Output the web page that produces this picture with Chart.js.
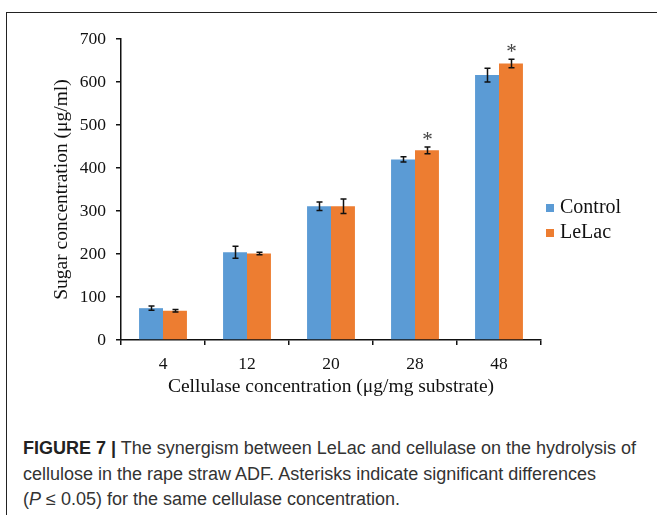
<!DOCTYPE html>
<html>
<head>
<meta charset="utf-8">
<script src="https://cdn.jsdelivr.net/npm/chart.js@4.4.1/dist/chart.umd.min.js"></script>
<style>
    html, body { margin: 0; padding: 0; background: #fff; }
    .figure {
        position: relative;
        width: 657px;
        height: 515px;
        overflow: hidden;
    }
    .frame {
        position: absolute;
        left: 6px;
        top: 12px;
        width: 700px;
        height: 600px;
        border-top: 1.5px solid #222;
        border-left: 1.5px solid #222;
    }
    .chart-box {
        position: absolute;
        left: 0;
        top: 0;
        width: 657px;
        height: 400px;
    }
    .caption {
        position: absolute;
        left: 23px;
        top: 436px;
        width: 634px;
        white-space: nowrap;
        font-family: "Liberation Sans", Arial, sans-serif;
        font-size: 18px;
        line-height: 25.5px;
        color: #333;
    }
    .caption strong { font-weight: bold; color: #222; }
</style>
</head>
<body>
<div class="figure">
    <div class="frame"></div>
    <div class="chart-box"><canvas id="chart"></canvas></div>
    <div class="caption">
        <strong>FIGURE 7 |</strong> The synergism between LeLac and cellulase on the hydrolysis of<br>
        cellulose in the rape straw ADF. Asterisks indicate significant differences<br>
        (<i>P</i> &le; 0.05) for the same cellulase concentration.
    </div>
</div>
<script>
const categories = ['4', '12', '20', '28', '48'];
const seriesNames = ['Control', 'LeLac'];
const controlValues = [74, 204, 311, 420, 616];
const controlErrors = [5, 14, 10, 6, 16];
const lelacValues = [68, 201, 311, 441, 643];
const lelacErrors = [3, 3, 17, 8, 10];
const lelacSignificant = [false, false, false, true, true];
const yTicks = [0, 100, 200, 300, 400, 500, 600, 700];

const colors = ['#5B9BD5', '#ED7D31'];
const serif = '"Liberation Serif", "Times New Roman", serif';

const errors = [controlErrors, lelacErrors];
const marks = [categories.map(() => false), lelacSignificant];

// error bars and significance asterisks on top of each bar
const errorBars = {
    id: 'errorBars',
    afterDatasetsDraw(chart) {
        const { ctx, scales } = chart;
        const y = scales.y;
        ctx.save();
        chart.data.datasets.forEach((dataset, di) => {
            const meta = chart.getDatasetMeta(di);
            meta.data.forEach((bar, i) => {
                const value = dataset.data[i];
                const err = errors[di][i];
                const top = y.getPixelForValue(value + err);
                const bottom = y.getPixelForValue(value - err);
                const x = Math.round(bar.x) + 0.5;
                ctx.strokeStyle = '#111';
                ctx.lineWidth = 1.5;
                ctx.beginPath();
                ctx.moveTo(x, top);
                ctx.lineTo(x, bottom);
                ctx.moveTo(x - 3, top);
                ctx.lineTo(x + 3, top);
                ctx.moveTo(x - 3, bottom);
                ctx.lineTo(x + 3, bottom);
                ctx.stroke();
                if (marks[di][i]) {
                    ctx.fillStyle = '#444';
                    ctx.font = `21px ${serif}`;
                    ctx.textAlign = 'center';
                    ctx.textBaseline = 'alphabetic';
                    ctx.fillText('*', x, top - 1);
                }
            });
        });
        ctx.restore();
    },
};

// legend to the right of the plot
const sideLegend = {
    id: 'sideLegend',
    afterDraw(chart) {
        const { ctx } = chart;
        ctx.save();
        ctx.font = `20px ${serif}`;
        ctx.textBaseline = 'middle';
        ctx.textAlign = 'left';
        seriesNames.forEach((name, i) => {
            const cy = 208 + i * 25;
            ctx.fillStyle = colors[i];
            ctx.fillRect(546, cy - 4, 8, 8);
            ctx.fillStyle = '#111';
            ctx.fillText(name, 560, cy);
        });
        ctx.restore();
    },
};

new Chart(document.getElementById('chart'), {
    type: 'bar',
    data: {
        labels: categories,
        datasets: [
            { label: seriesNames[0], data: controlValues, backgroundColor: colors[0] },
            { label: seriesNames[1], data: lelacValues, backgroundColor: colors[1] },
        ],
    },
    options: {
        responsive: true,
        maintainAspectRatio: false,
        animation: false,
        devicePixelRatio: 1,
        categoryPercentage: 0.57,
        barPercentage: 1,
        layout: { padding: { left: 40, top: 39, right: 116, bottom: 0 } },
        plugins: {
            legend: { display: false },
            tooltip: { enabled: false },
        },
        scales: {
            x: {
                afterFit: (scale) => { scale.height = 60; },
                border: { color: '#111', width: 1.5 },
                grid: { drawOnChartArea: false, tickLength: 5, color: '#111', lineWidth: 1.5 },
                ticks: { color: '#111', font: { family: serif, size: 17.5 }, padding: 9 },
                title: {
                    display: true,
                    text: 'Cellulase concentration (μg/mg substrate)',
                    color: '#111',
                    font: { family: serif, size: 19.5 },
                    padding: { top: 0, bottom: 1 },
                },
            },
            y: {
                min: 0,
                max: 700,
                afterFit: (scale) => { scale.width = 81; },
                afterBuildTicks: (scale) => { scale.ticks = yTicks.map((value) => ({ value })); },
                border: { color: '#111', width: 1.5 },
                grid: { drawOnChartArea: false, tickLength: 5, color: '#111', lineWidth: 1.5 },
                ticks: { color: '#111', font: { family: serif, size: 17.5 }, padding: 10 },
                title: {
                    display: true,
                    text: 'Sugar concentration (μg/ml)',
                    color: '#111',
                    font: { family: serif, size: 19.5 },
                    padding: { top: 10, bottom: 0 },
                },
            },
        },
    },
    plugins: [errorBars, sideLegend],
});
</script>
</body>
</html>
